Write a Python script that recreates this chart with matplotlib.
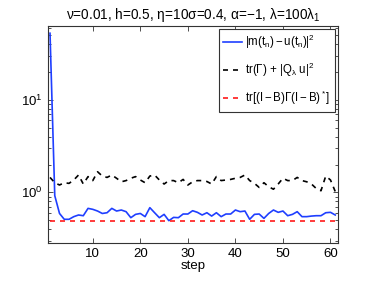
import numpy as np
import matplotlib
matplotlib.use("Agg")
import matplotlib.pyplot as plt
from matplotlib.ticker import LogLocator, NullFormatter, FixedLocator

plt.rcParams['font.family'] = ['Liberation Sans', 'DejaVu Sans']
plt.rcParams['mathtext.fontset'] = 'custom'
plt.rcParams['mathtext.rm'] = 'Liberation Sans'
plt.rcParams['mathtext.it'] = 'Liberation Sans'
plt.rcParams['mathtext.bf'] = 'Liberation Sans:bold'

steps = np.arange(1, 62)

err = [52.9, 0.92, 0.59, 0.51, 0.51, 0.545, 0.568, 0.558, 0.67, 0.654,
       0.627, 0.59, 0.601, 0.67, 0.627, 0.643, 0.617, 0.531, 0.577, 0.59,
       0.545, 0.682, 0.601, 0.531, 0.577, 0.493, 0.535, 0.531, 0.582, 0.582,
       0.632, 0.607, 0.568, 0.601, 0.553, 0.601, 0.545, 0.582, 0.582, 0.643,
       0.617, 0.627, 0.51, 0.577, 0.582, 0.522, 0.59, 0.643, 0.607, 0.627,
       0.558, 0.577, 0.617, 0.545, 0.545, 0.553, 0.558, 0.558, 0.601, 0.607, 0.568]

trace_q = [1.45, 1.27, 1.20, 1.27, 1.25, 1.36, 1.54, 1.23, 1.48, 1.34,
           1.67, 1.50, 1.45, 1.54, 1.42, 1.30, 1.34, 1.42, 1.48, 1.36,
           1.27, 1.50, 1.54, 1.36, 1.23, 1.34, 1.34, 1.27, 1.38, 1.20,
           1.30, 1.34, 1.34, 1.31, 1.23, 1.48, 1.34, 1.36, 1.38, 1.42,
           1.45, 1.54, 1.34, 1.25, 1.13, 1.27, 1.15, 1.08, 1.23, 1.42,
           1.34, 1.34, 1.45, 1.34, 1.30, 1.23, 1.10, 1.04, 1.50, 1.36, 1.02]

bound = [0.49] * 61

labels = [r'$|m(t_n)-u(t_n)|^2$',
          r'$\mathrm{tr}(\Gamma)\,+\,|Q_\lambda\;u|^2$',
          r'$\mathrm{tr}[(I-B)\Gamma(I-B)^*]$']

title = r'$\nu$=0.01, h=0.5, $\eta$=10$\sigma$=0.4, $\alpha$=$-$1, $\lambda$=100$\lambda_1$'

fig = plt.figure(figsize=(3.74, 2.81), dpi=100)
ax = fig.add_axes([0.128, 0.135, 0.776, 0.7735])

ax.plot(steps, err, color='#1f3fff', lw=1.2, label=labels[0])
ax.plot(steps, trace_q, color='black', lw=1.2, ls=(0, (3, 3)), label=labels[1])
ax.plot(steps, bound, color='#ff1a1a', lw=1.2, ls=(0, (3, 3)), label=labels[2])

ax.set_yscale('log')
ax.set_xlim(0.55, 61.6)
ax.set_ylim(0.282, 63.8)
ax.xaxis.set_major_locator(FixedLocator([10, 20, 30, 40, 50, 60]))
ax.yaxis.set_major_locator(LogLocator(base=10, numticks=5))
ax.yaxis.set_minor_locator(LogLocator(base=10, subs=np.arange(2, 10), numticks=10))
ax.yaxis.set_minor_formatter(NullFormatter())

ax.tick_params(which='both', direction='in', top=True, right=True, labelsize=9.5,
               color='#333333', width=0.6)
ax.tick_params(which='major', length=3.5)
ax.tick_params(which='minor', length=2)
for s in ax.spines.values():
    s.set_linewidth(0.8)
    s.set_color('#333333')

ax.set_xlabel('step', fontsize=9.5, labelpad=0)
ax.set_title(title, fontsize=9.8, pad=5)

leg = ax.legend(loc='upper right', fontsize=8.3, handlelength=1.6, handletextpad=0.3,
                labelspacing=0.85, borderaxespad=0.25, fancybox=False,
                framealpha=1, edgecolor='#333333', borderpad=0.4)
leg.get_frame().set_linewidth(0.8)

fig.savefig('out.png', dpi=100)
